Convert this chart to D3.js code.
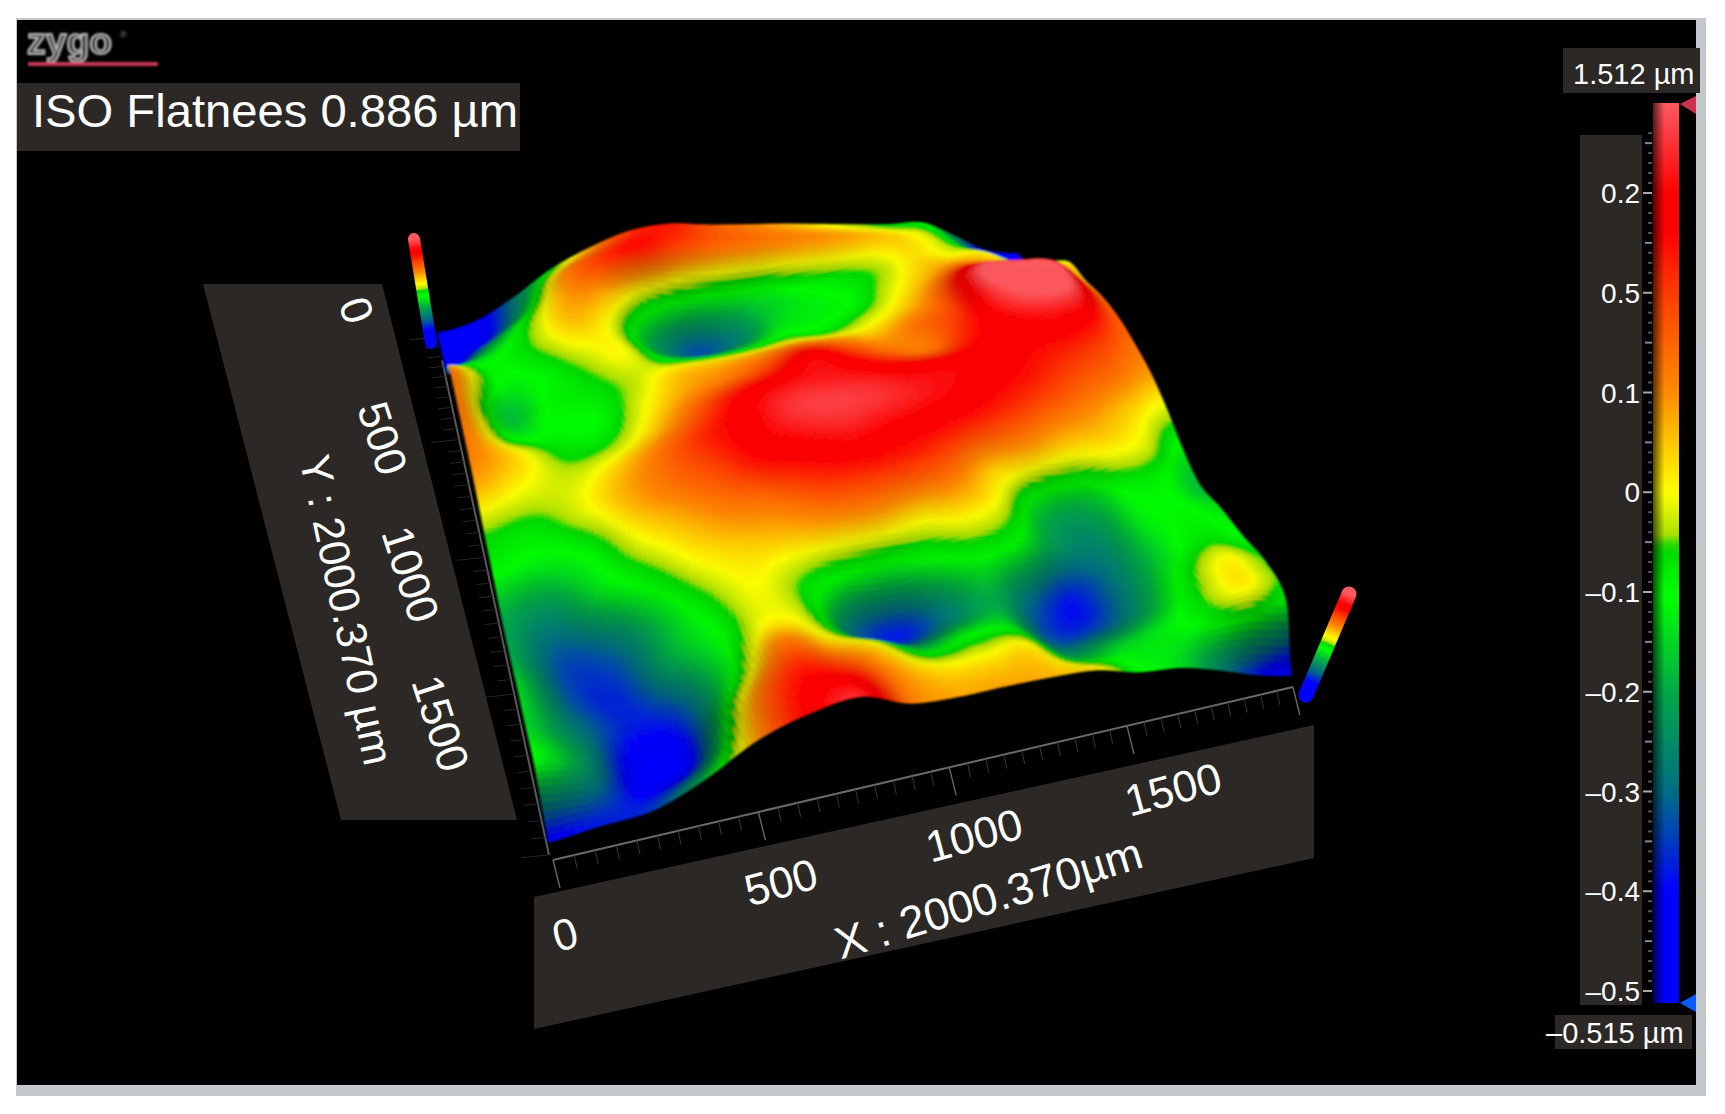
<!DOCTYPE html>
<html>
<head>
<meta charset="utf-8">
<script src="https://cdnjs.cloudflare.com/ajax/libs/d3/7.8.5/d3.min.js"></script>
<style>
  body { margin: 0; background: #fff; }
  text { font-family: "Liberation Sans", Arial, sans-serif; fill: #fff; }
</style>
</head>
<body>
<script>
// surface height in um, one list per y step (0 .. 2000 um), 17 samples along x
const row00 = [-.50,-.44,-.28,-.08, .06, .16, .18, .13, .09, .055, .01,-.035,-.075,-.10,-.26,-.43,-.50]
const row01 = [-.47,-.42,-.22, .05, .15, .18, .13, .10, .09, .08, .07, .05, .02,-.04,-.20,-.42,-.42]
const row02 = [-.42,-.25,-.08, .06, .05,-.06,-.13,-.14,-.13,-.09,-.07,-.04, .02, .00,-.02,-.18,-.20]
const row03 = [-.15,-.12,-.05, .03,-.02,-.22,-.33,-.27,-.15,-.12,-.10,-.02, .05, .11, .08, .03, .00]
const row04 = [ .08,-.10,-.10,-.04, .00,-.12,-.15,-.13,-.08,-.08,-.03, .03, .12, .30, .30, .26, .04]
const row05 = [ .10,-.17,-.10,-.08,-.03, .02, .03, .05, .08, .07, .05, .10, .15, .27, .32, .30, .10]
const row06 = [ .10,-.10,-.10,-.10,-.01, .06, .10, .15, .22, .17, .12, .10, .18, .22, .24, .22, .12]
const row07 = [ .09, .02,-.06,-.05, .03, .12, .20, .24, .25, .24, .22, .22, .22, .20, .18, .15, .10]
const row08 = [ .05, .00,-.02, .03, .10, .17, .22, .27, .28, .27, .25, .23, .20, .17, .13, .10, .06]
const row09 = [-.05,-.07,-.02, .05, .10, .14, .20, .22, .24, .22, .20, .17, .14, .10, .07, .03,-.02]
const row10 = [-.10,-.13,-.10, .00, .05, .09, .11, .15, .16, .15, .12, .05, .03, .00, .01,-.02,-.12]
const row11 = [-.20,-.25,-.15,-.08, .00, .03, .04, .05, .05, .02, .03,-.02,-.17,-.20,-.10,-.10,-.18]
const row12 = [-.20,-.33,-.30,-.18,-.07, .00,-.05,-.12,-.15,-.12,-.08,-.12,-.24,-.26,-.13,-.10,-.13]
const row13 = [-.15,-.33,-.36,-.22,-.12, .00,-.05,-.30,-.38,-.28,-.20,-.30,-.38,-.28,-.15,-.07,-.10]
const row14 = [-.15,-.28,-.38,-.35,-.12, .10, .04,-.03,-.18,-.13,-.14,-.33,-.35,-.25,-.09, .01,-.05]
const row15 = [-.12,-.25,-.45,-.40, .02, .18, .16, .07, .00, .00, .00,-.20,-.17,-.13,-.08,-.03,-.10]
const row16 = [-.42,-.38,-.35,-.18, .07, .21, .26, .10, .06, .06, .05, .02,-.09,-.14,-.25,-.38,-.47]
const rows = [row00,row01,row02,row03,row04,row05,row06,row07,row08,row09,row10,row11,row12,row13,row14,row15,row16]

// colour bar: labels as printed on the instrument and the colour ramp
const barLabels = ['0.2','0.5','0.1','0','–0.1','–0.2','–0.3','–0.4','–0.5']
const rampValues = [-.515,-.40,-.35,-.30,-.20,-.105,-.055,-.042,0,.038,.077,.153,.20,.23,.30]
const rampColors = ['#0000ff','#0000ff','#003cbe','#006e82','#00aa46','#00ff00','#00d800','#aae100','#ffff00','#ffc800','#ff8c00','#ff3c00','#ff0000','#ff0000','#ff5a5f']

const xTicks = [0,500,1000,1500]
const yTicks = [0,500,1000,1500]
const fieldSize = 2000.37

const width = 1725
const height = 1114
const panel = '#2b2826'

const svg = d3.select('body').append('svg').attr('width', width).attr('height', height)
const defs = svg.append('defs')

const colorScale = d3.scaleLinear().domain(rampValues).range(rampColors).clamp(true)
const heightScale = d3.scaleLinear().domain([-.515,.4]).range([0,.0609])

// ground plane of the 3d view: homography from the unit square
const cA = [438,335], cB = [1017,255], cC = [1290,680], cD = [550,853]
const nadir = [714,2083]
const sx = cA[0]-cB[0]+cC[0]-cD[0], sy = cA[1]-cB[1]+cC[1]-cD[1]
const dx1 = cB[0]-cC[0], dx2 = cD[0]-cC[0], dy1 = cB[1]-cC[1], dy2 = cD[1]-cC[1]
const det = dx1*dy2-dx2*dy1
const g = (sx*dy2-dx2*sy)/det, h = (dx1*sy-sx*dy1)/det
const a = cB[0]-cA[0]+g*cB[0], b = cD[0]-cA[0]+h*cD[0]
const d = cB[1]-cA[1]+g*cB[1], e = cD[1]-cA[1]+h*cD[1]

const project = (u,v,z) => {
  const w = 1+g*u+h*v
  const px = (a*u+b*v+cA[0])/w, py = (d*u+e*v+cA[1])/w
  const f = z === null ? 0 : heightScale(z)/w
  return [px+(px-nadir[0])*f, py+(py-nadir[1])*f]
}

// catmull-rom through the samples so the mesh is smooth
const cr = (p0,p1,p2,p3,t) => .5*(2*p1+(p2-p0)*t+(2*p0-5*p1+4*p2-p3)*t*t+(3*p1-p0-3*p2+p3)*t*t*t)
const clampI = i => Math.max(0,Math.min(16,i))
const surf = (u,v) => {
  const fx = u*16, fy = v*16
  const ix = Math.min(15,Math.floor(fx)), iy = Math.min(15,Math.floor(fy))
  const tx = fx-ix, ty = fy-iy
  const col = [-1,0,1,2].map(k => {
    const r = rows[clampI(iy+k)]
    return cr(r[clampI(ix-1)],r[ix],r[ix+1],r[clampI(ix+2)],tx)
  })
  return Math.max(-.515,Math.min(.4,cr(col[0],col[1],col[2],col[3],ty)))
}

// frame
svg.append('rect').attr('x',16).attr('y',18).attr('width',1690).attr('height',1078).attr('fill','#c4c7cc')
svg.append('rect').attr('x',17).attr('y',20).attr('width',1679).attr('height',1065).attr('fill','#000')

// logo
defs.append('filter').attr('id','soft').attr('filterUnits','userSpaceOnUse').attr('x',0).attr('y',0).attr('width',width).attr('height',height)
  .append('feGaussianBlur').attr('stdDeviation',.8)
const logo = svg.append('g').attr('filter','url(#soft)')
logo.append('text').attr('x',27).attr('y',54).attr('textLength',85).attr('lengthAdjust','spacingAndGlyphs')
  .style('font-size','37px').style('font-weight','bold').style('fill','#2a2a2a').style('stroke','#bbb').style('stroke-width',2)
  .text('zygo')
logo.append('text').attr('x',120).attr('y',38).style('font-size','9px').style('fill','#888').text('®')
logo.append('rect').attr('x',28).attr('y',62).attr('width',130).attr('height',4).attr('fill','#c8385a')

// title
svg.append('rect').attr('x',17).attr('y',83).attr('width',503).attr('height',68).attr('fill',panel)
svg.append('text').attr('x',32).attr('y',127).attr('textLength',486).attr('lengthAdjust','spacingAndGlyphs').style('font-size','47px').text('ISO Flatnees 0.886 µm')

// axis panels
const line = d3.line()
svg.append('path').attr('d',line([[203,284],[382,284],[517,820],[341,820]])+'Z').attr('fill',panel)
svg.append('path').attr('d',line([[534,897],[1314,725],[1314,858],[534,1029]])+'Z').attr('fill',panel)

// x axis under the surface
const xScale = d3.scaleLinear().domain([0,fieldSize]).range([0,1])
const xAxisG = svg.append('g').attr('stroke','#6a6a6a')
const off = [3,7]
const axisPt = u => { const p = project(u,1,null); return [p[0]+off[0],p[1]+off[1]] }
xAxisG.append('path').attr('fill','none').attr('stroke-width',2).attr('d',line([axisPt(0),axisPt(1)]))
d3.range(0,2001,50).forEach(t => {
  const p = axisPt(xScale(t))
  const major = t%500 === 0
  xAxisG.append('line').attr('x1',p[0]).attr('y1',p[1]).attr('x2',p[0]+(major?7:3)).attr('y2',p[1]+(major?28:14))
    .attr('stroke-width',major?1.4:1).attr('stroke',major?'#666':'#383838')
})

// y axis at the left edge
const yScale = d3.scaleLinear().domain([0,fieldSize]).range([0,1])
const yAxisG = svg.append('g').attr('stroke','#5a5a5a')
const yPt = v => { const p = project(0,v,null); return [p[0]-1,p[1]+2] }
yAxisG.append('path').attr('fill','none').attr('stroke-width',2).attr('d',line([yPt(.06),yPt(1)]))
d3.range(0,2001,50).forEach(t => {
  const p = yPt(yScale(t))
  const major = t%500 === 0
  yAxisG.append('line').attr('x1',p[0]).attr('y1',p[1]).attr('x2',p[0]-(major?28:14)).attr('y2',p[1]+(major?3:1.5))
    .attr('stroke-width',1).attr('stroke','#262626')
})

// surface mesh, painted back to front. steep parts get darker, like the head-on light of the viewer
const sub = 160
const cells = []
for (let j = 0; j < sub; j++) {
  for (let i = 0; i < sub; i++) {
    const u0 = i/sub, u1 = (i+1)/sub, v0 = j/sub, v1 = (j+1)/sub
    const z00 = surf(u0,v0), z10 = surf(u1,v0), z11 = surf(u1,v1), z01 = surf(u0,v1)
    const zc = (z00+z10+z11+z01)/4
    const du = ((z10+z11)-(z00+z01))/2*sub, dv = ((z01+z11)-(z00+z10))/2*sub
    cells.push({pts:[project(u0,v0,z00),project(u1,v0,z10),project(u1,v1,z11),project(u0,v1,z01)],z:zc,slope:Math.hypot(du,dv)})
  }
}
const shade = d3.scaleLinear().domain([1.5,7]).range([0,.3]).clamp(true)
const cellColor = c => d3.interpolateRgb(colorScale(c.z),'#000')(shade(c.slope))
defs.append('filter').attr('id','meshBlur').attr('filterUnits','userSpaceOnUse').attr('x',0).attr('y',0).attr('width',width).attr('height',height)
  .append('feGaussianBlur').attr('stdDeviation',1.1)
svg.append('g').attr('filter','url(#meshBlur)').selectAll('path').data(cells).enter().append('path')
  .attr('d',c => line(c.pts)+'Z')
  .attr('fill',cellColor)
  .attr('stroke',cellColor)
  .attr('stroke-width',.7)

// little colour poles at the corners
const barY = d3.scaleLinear().domain([-.515,0,.3]).range([1003,493,103])
const addGrad = (id,x1,y1,x2,y2) => {
  const gr = defs.append('linearGradient').attr('id',id).attr('gradientUnits','userSpaceOnUse')
    .attr('x1',x1).attr('y1',y1).attr('x2',x2).attr('y2',y2)
  gr.selectAll('stop').data(d3.range(0,1.0001,.01)).enter().append('stop')
    .attr('offset',t => t)
    .attr('stop-color',t => colorScale(barY.invert(1003-900*t)))
}
addGrad('poleL',431,343,414,239)
addGrad('poleR',1306,695,1349,594)
addGrad('barG',0,1003,0,103)
svg.append('line').attr('x1',431).attr('y1',343).attr('x2',414).attr('y2',239)
  .attr('stroke','url(#poleL)').attr('stroke-width',12).attr('stroke-linecap','round')
svg.append('line').attr('x1',1306).attr('y1',695).attr('x2',1349).attr('y2',594)
  .attr('stroke','url(#poleR)').attr('stroke-width',15).attr('stroke-linecap','round')

// colour bar
svg.append('rect').attr('x',1580).attr('y',135).attr('width',62).attr('height',870).attr('fill',panel)
svg.append('rect').attr('x',1563).attr('y',48).attr('width',137).attr('height',45).attr('fill',panel)
svg.append('rect').attr('x',1555).attr('y',1015).attr('width',137).attr('height',34).attr('fill',panel)
svg.append('rect').attr('x',1653).attr('y',103).attr('width',26).attr('height',900).attr('fill','url(#barG)')
const bevel = defs.append('linearGradient').attr('id','bevel')
bevel.append('stop').attr('offset',0).attr('stop-color','#000').attr('stop-opacity',.65)
bevel.append('stop').attr('offset',.45).attr('stop-color','#000').attr('stop-opacity',0)
svg.append('rect').attr('x',1653).attr('y',103).attr('width',26).attr('height',900).attr('fill','url(#bevel)')

const barTickScale = d3.scalePoint().domain(barLabels).range([193,991])
barLabels.forEach(l => {
  svg.append('text').attr('x',1640).attr('y',barTickScale(l)+10).attr('text-anchor','end').style('font-size','28px').text(l)
})
const step = barTickScale.step()/10
d3.range(-6,83).forEach(k => {
  const y = 193+k*step
  if (y < 108 || y > 1000) return
  const kind = ((k%10)+10)%10
  svg.append('line').attr('x1',kind===0?1643:kind===5?1645:1648).attr('x2',1652).attr('y1',y).attr('y2',y)
    .attr('stroke',kind===0?'#aaa':kind===5?'#888':'#555').attr('stroke-width',2)
})
svg.append('path').attr('d',line([[1680,104],[1696,96],[1696,114]])+'Z').attr('fill','#c8324a')
svg.append('path').attr('d',line([[1680,1003],[1696,994],[1696,1012]])+'Z').attr('fill','#0a5aff')
svg.append('text').attr('x',1573).attr('y',84).style('font-size','29px').text('1.512 µm')
svg.append('text').attr('x',1546).attr('y',1043).style('font-size','29px').text('–0.515 µm')

// axis labels, tilted with the view
const xLabelPos = [[569,949],[785,897],[978,850],[1177,804]]
xTicks.forEach((t,i) => {
  svg.append('text').attr('transform',`translate(${xLabelPos[i][0]},${xLabelPos[i][1]}) rotate(-15)`)
    .attr('text-anchor','middle').style('font-size','44px').text(t)
})
svg.append('text').attr('transform','translate(993,913) rotate(-17)').attr('text-anchor','middle').style('font-size','45px').text('X : 2000.370µm')
const yLabelPos = [[342,315],[368,443],[396,579],[426,728]]
yTicks.forEach((t,i) => {
  svg.append('text').attr('transform',`translate(${yLabelPos[i][0]},${yLabelPos[i][1]}) rotate(72)`)
    .attr('text-anchor','middle').style('font-size','44px').text(t)
})
svg.append('text').attr('transform','translate(332,613) rotate(78)').attr('text-anchor','middle').style('font-size','43px').text('Y : 2000.370 µm')
</script>
</body>
</html>
